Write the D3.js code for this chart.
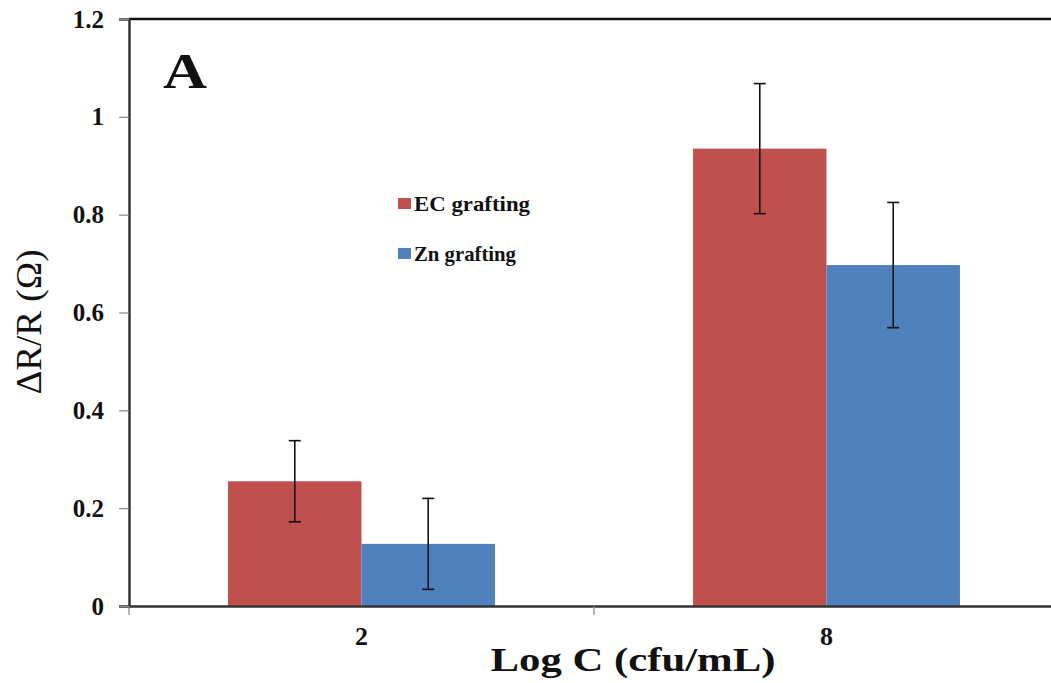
<!DOCTYPE html>
<html>
<head>
<meta charset="utf-8">
<script src="https://cdn.jsdelivr.net/npm/d3@7"></script>
<style>
  body { margin: 0; background: #fff; }
  svg { display: block; }
  text { font-family: "Liberation Serif", "Times New Roman", serif; fill: #111; }
</style>
</head>
<body>
<svg width="1051" height="683"></svg>
<script>
const categories = ["2", "8"];
const seriesNames = ["EC grafting", "Zn grafting"];
const seriesColors = ["#C0504D", "#4F81BD"];
const ecValues = [0.255, 0.935];
const znValues = [0.127, 0.697];
const ecErrors = [0.083, 0.133];
const znErrors = [0.093, 0.128];
const yTicks = [0, 0.2, 0.4, 0.6, 0.8, 1, 1.2];

const svg = d3.select("svg");
const margin = { left: 129, top: 19, right: -8, bottom: 77 };
const width = 1051 - margin.left - margin.right;
const height = 683 - margin.top - margin.bottom;

const g = svg.append("g").attr("transform", `translate(${margin.left},${margin.top})`);

const x = d3.scaleBand().domain(categories).range([0, width]);
// bars take ~57% of each category band, centered
const xInner = d3.scaleBand().domain(seriesNames)
  .range([x.bandwidth() * 0.213, x.bandwidth() * 0.787]);

const y = d3.scaleLinear().domain([0, 1.2]).range([height, 0]);

const rows = categories.map((c, i) => ({
  cat: c,
  vals: [
    { name: seriesNames[0], v: ecValues[i], e: ecErrors[i], color: seriesColors[0] },
    { name: seriesNames[1], v: znValues[i], e: znErrors[i], color: seriesColors[1] }
  ]
}));

// top border
g.append("line")
  .attr("x1", 0).attr("x2", width + 20)
  .attr("y1", 0).attr("y2", 0)
  .attr("stroke", "#111").attr("stroke-width", 2.5);

// bars
const groups = g.selectAll(".grp").data(rows).enter().append("g")
  .attr("transform", (d) => `translate(${x(d.cat)},0)`);

groups.selectAll("rect").data((d) => d.vals).enter().append("rect")
  .attr("x", (d) => xInner(d.name))
  .attr("width", xInner.bandwidth())
  .attr("y", (d) => y(d.v))
  .attr("height", (d) => height - y(d.v))
  .attr("fill", (d) => d.color);

// error bars
const err = groups.selectAll(".err").data((d) => d.vals).enter().append("g")
  .attr("transform", (d) => `translate(${xInner(d.name) + xInner.bandwidth() / 2},0)`)
  .attr("stroke", "#111").attr("stroke-width", 1.6);
err.append("line").attr("y1", (d) => y(d.v + d.e)).attr("y2", (d) => y(d.v - d.e));
err.append("line").attr("x1", -6).attr("x2", 6).attr("y1", (d) => y(d.v + d.e)).attr("y2", (d) => y(d.v + d.e));
err.append("line").attr("x1", -6).attr("x2", 6).attr("y1", (d) => y(d.v - d.e)).attr("y2", (d) => y(d.v - d.e));

// y axis
const yAxis = g.append("g")
  .call(d3.axisLeft(y).tickValues(yTicks).tickSize(10).tickPadding(15).tickFormat(d3.format("~g")));
yAxis.select(".domain").attr("stroke", "#333").attr("stroke-width", 2.5);
yAxis.selectAll(".tick line").attr("stroke", "#888").attr("stroke-width", 1.2);
yAxis.selectAll("text")
  .style("font-size", "25px").style("font-weight", "bold").style("fill", "#111")
  .style("font-family", "'Liberation Serif', serif");

// x axis
const xAxis = g.append("g").attr("transform", `translate(0,${height})`)
  .call(d3.axisBottom(x).tickSize(0).tickPadding(21));
xAxis.select(".domain").attr("stroke", "#333").attr("stroke-width", 2.5);
xAxis.selectAll("text")
  .style("font-size", "26px").style("font-weight", "bold").style("fill", "#111")
  .style("font-family", "'Liberation Serif', serif");
// boundary ticks between categories
const bounds = [0, x.bandwidth()];
xAxis.selectAll(".bt").data(bounds).enter().append("line")
  .attr("x1", (d) => d).attr("x2", (d) => d)
  .attr("y1", 0).attr("y2", 9)
  .attr("stroke", "#888").attr("stroke-width", 1.2);

// legend
const legendWidths = [132, 118];
const legend = g.append("g").attr("transform", "translate(269,179)");
seriesNames.forEach((name, i) => {
  const row = legend.append("g").attr("transform", `translate(0,${i * 50})`);
  row.append("rect").attr("width", 13).attr("height", 11).attr("fill", seriesColors[i]);
  row.append("text").attr("x", 16).attr("y", 13)
    .style("font-size", "22px").style("font-weight", "bold")
    .attr("textLength", legendWidths[i] - 16).attr("lengthAdjust", "spacingAndGlyphs")
    .text(name);
});

// panel letter
g.append("text").attr("x", 34).attr("y", 69)
  .style("font-size", "50px").style("font-weight", "bold")
  .attr("textLength", 44).attr("lengthAdjust", "spacingAndGlyphs")
  .text("A");

// axis titles
svg.append("text")
  .attr("transform", "translate(41,322) rotate(-90)")
  .attr("text-anchor", "middle")
  .style("font-size", "36px")
  .attr("textLength", 145).attr("lengthAdjust", "spacingAndGlyphs")
  .text("ΔR/R (Ω)");

svg.append("text")
  .attr("x", 633).attr("y", 671)
  .attr("text-anchor", "middle")
  .style("font-size", "34px").style("font-weight", "bold")
  .attr("textLength", 285).attr("lengthAdjust", "spacingAndGlyphs")
  .text("Log C (cfu/mL)");
</script>
</body>
</html>
